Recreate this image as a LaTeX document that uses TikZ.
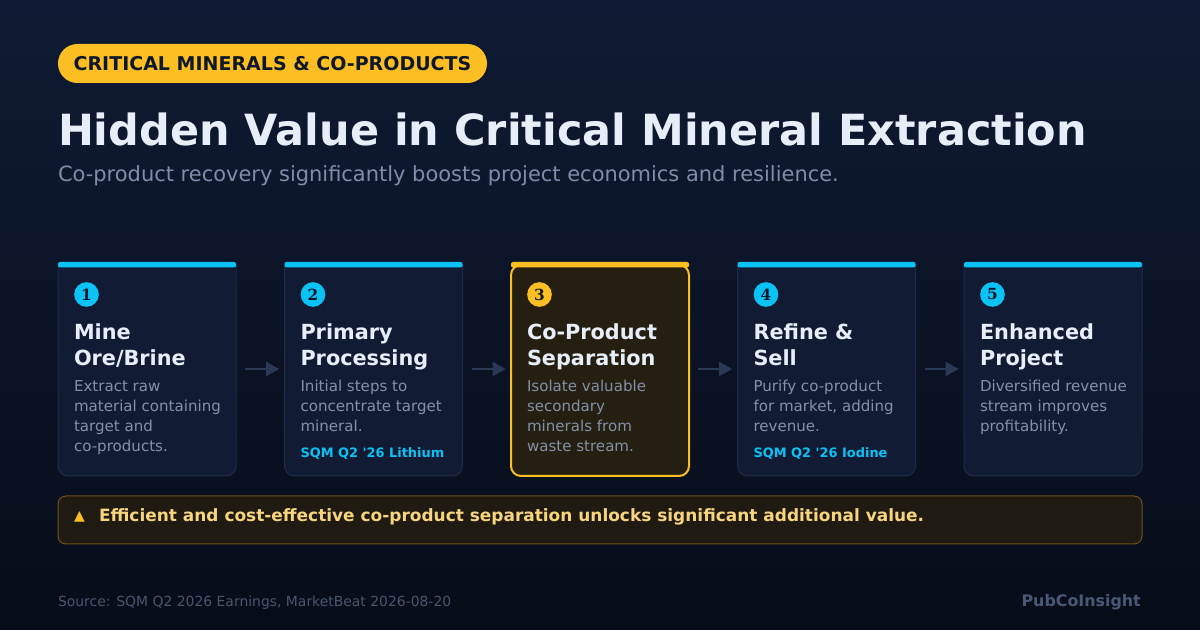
\documentclass[tikz,border=0pt]{standalone}
\usepackage{fontspec}
\setmainfont{DejaVu Sans}
\newfontfamily\numfont{DejaVu Serif}
\usetikzlibrary{arrows.meta}
\definecolor{bgtop}{HTML}{0F1B34}
\definecolor{bgbot}{HTML}{070C18}
\definecolor{cardfill}{HTML}{111C34}
\definecolor{cardline}{HTML}{1F2C48}
\definecolor{cyanc}{HTML}{0BC2F5}
\definecolor{amber}{HTML}{FBBF24}
\definecolor{hifill}{HTML}{241F10}
\definecolor{headc}{HTML}{E8EEF8}
\definecolor{descc}{HTML}{8391A8}
\definecolor{subc}{HTML}{7F8DAA}
\definecolor{arrc}{HTML}{2A3955}
\definecolor{callfill}{HTML}{1F1A12}
\definecolor{callline}{HTML}{6E5418}
\definecolor{calltext}{HTML}{F7D47E}
\definecolor{footc}{HTML}{4A5670}
\definecolor{brandc}{HTML}{4A5878}
\definecolor{darkc}{HTML}{0F172A}
\newcommand\sq{\XeTeXglyph\XeTeXcharglyph"0027\relax}
\newcommand\cardbody[3]{% x, fill, draw
  \draw[rounded corners=7.5pt, fill=#2, draw=#3, line width=0.75pt]
    (#1,265) -- (#1,476) -- ({#1+178},476) -- ({#1+178},265);}
\newcommand\cardbodyhi[3]{%
  \draw[rounded corners=7.5pt, fill=#2, draw=#3, line width=1.5pt]
    (#1,265) -- (#1,476) -- ({#1+178},476) -- ({#1+178},265) -- cycle;}
\newcommand\cardbar[2]{%
  \fill[#2, rounded corners=1.5pt] (#1,262) rectangle ({#1+178},267.5);}
\begin{document}
\begin{tikzpicture}[x=0.75pt,y=-0.75pt,
  txt/.style={inner sep=0pt, outer sep=0pt, anchor=base west},
  headt/.style={txt, text=headc, font=\fontsize{15.6}{18}\selectfont\bfseries},
  desct/.style={txt, text=descc, font=\fontsize{11.3}{14}\selectfont},
  tagt/.style={txt, text=cyanc, font=\fontsize{9.7}{12}\selectfont\bfseries},
  numc/.style={circle, inner sep=0pt, minimum size=18.5pt, text=darkc,
    font=\fontsize{11.5}{12}\selectfont\numfont\bfseries},
  cardanchor/.style={rectangle, inner sep=0pt, outer sep=0pt, draw=none,
    minimum width=133.5pt, minimum height=160.5pt},
  arr/.style={draw=arrc, line width=1.9pt,
    -{Triangle[length=9.75pt,width=10.5pt]},
    shorten <=6.75pt, shorten >=4pt}]
\useasboundingbox (0,0) rectangle (1200,630);
\shade[top color=bgtop, bottom color=bgbot] (0,0) rectangle (1200,630);

% pill
\fill[amber, rounded corners=14.6pt] (58,44) rectangle (487,83);
\node[inner sep=0pt, anchor=base, text=darkc,
  font=\fontsize{14.25}{16}\selectfont\bfseries] (pill) at (272.5,70.5)
  {CRITICAL MINERALS \& CO-PRODUCTS};

% title & subtitle
\node[txt, text=headc, font=\fontsize{32.22}{38}\selectfont\bfseries] (title) at (58,146)
  {Hidden Value in Critical Mineral Extraction};
\node[txt, text=subc, font=\fontsize{15.72}{19}\selectfont] (subtitle) at (58,182)
  {Co-product recovery significantly boosts project economics and resilience.};

% cards
\cardbody{58}{cardfill}{cardline}
\cardbody{284.5}{cardfill}{cardline}
\cardbodyhi{511}{hifill}{amber}
\cardbody{737.5}{cardfill}{cardline}
\cardbody{964}{cardfill}{cardline}
\cardbar{58}{cyanc}
\cardbar{284.5}{cyanc}
\cardbar{511}{amber}
\cardbar{737.5}{cyanc}
\cardbar{964}{cyanc}

\node[cardanchor] (card1) at (147,369) {};
\node[cardanchor] (card2) at (373.5,369) {};
\node[cardanchor] (card3) at (600,369) {};
\node[cardanchor] (card4) at (826.5,369) {};
\node[cardanchor] (card5) at (1053,369) {};

\draw[arr] (card1.east) -- (card2.west);
\draw[arr] (card2.east) -- (card3.west);
\draw[arr] (card3.east) -- (card4.west);
\draw[arr] (card4.east) -- (card5.west);

% card 1
\node[numc, fill=cyanc] (n1) at (86.5,294.5) {1};
\node[headt] (h1a) at (74,340) {Mine};
\node[headt] (h1b) at (74,366) {Ore/Brine};
\node[desct] (d1a) at (74,392) {Extract raw};
\node[desct] (d1b) at (74,412) {material containing};
\node[desct] (d1c) at (74,432) {target and};
\node[desct] (d1d) at (74,452) {co-products.};

% card 2
\node[numc, fill=cyanc] (n2) at (313,294.5) {2};
\node[headt] (h2a) at (300.5,340) {Primary};
\node[headt] (h2b) at (300.5,366) {Processing};
\node[desct] (d2a) at (300.5,392) {Initial steps to};
\node[desct] (d2b) at (300.5,412) {concentrate target};
\node[desct] (d2c) at (300.5,432) {mineral.};
\node[tagt] (t2) at (300.5,458) {SQM Q2 \sq26 Lithium};

% card 3
\node[numc, fill=amber] (n3) at (539.5,294.5) {3};
\node[headt] (h3a) at (527,340) {Co-Product};
\node[headt] (h3b) at (527,366) {Separation};
\node[desct] (d3a) at (527,392) {Isolate valuable};
\node[desct] (d3b) at (527,412) {secondary};
\node[desct] (d3c) at (527,432) {minerals from};
\node[desct] (d3d) at (527,452) {waste stream.};

% card 4
\node[numc, fill=cyanc] (n4) at (766,294.5) {4};
\node[headt] (h4a) at (753.5,340) {Refine \&};
\node[headt] (h4b) at (753.5,366) {Sell};
\node[desct] (d4a) at (753.5,392) {Purify co-product};
\node[desct] (d4b) at (753.5,412) {for market, adding};
\node[desct] (d4c) at (753.5,432) {revenue.};
\node[tagt] (t4) at (753.5,458) {SQM Q2 \sq26 Iodine};

% card 5
\node[numc, fill=cyanc] (n5) at (992.5,294.5) {5};
\node[headt] (h5a) at (980,340) {Enhanced};
\node[headt] (h5b) at (980,366) {Project};
\node[desct] (d5a) at (980,392) {Diversified revenue};
\node[desct] (d5b) at (980,412) {stream improves};
\node[desct] (d5c) at (980,432) {profitability.};

% callout
\draw[fill=callfill, draw=callline, line width=0.75pt, rounded corners=6pt]
  (58,496) rectangle (1142,544);
\node[txt, text=amber, font=\fontsize{10.5}{12}\selectfont] (warn) at (74,520.5) {▲};
\node[txt, text=calltext, font=\fontsize{12.72}{15}\selectfont\bfseries] (callt) at (99,522)
  {Efficient and cost-effective co-product separation unlocks significant additional value.};

% footer
\node[txt, text=footc, font=\fontsize{10.44}{12}\selectfont] (src) at (58,607)
  {Source: SQM Q2 2026 Earnings, MarketBeat 2026-08-20};
\node[inner sep=0pt, anchor=base east, text=brandc,
  font=\fontsize{11.9}{14}\selectfont\bfseries] (brand) at (1141,607) {PubCoInsight};
\end{tikzpicture}
\end{document}
